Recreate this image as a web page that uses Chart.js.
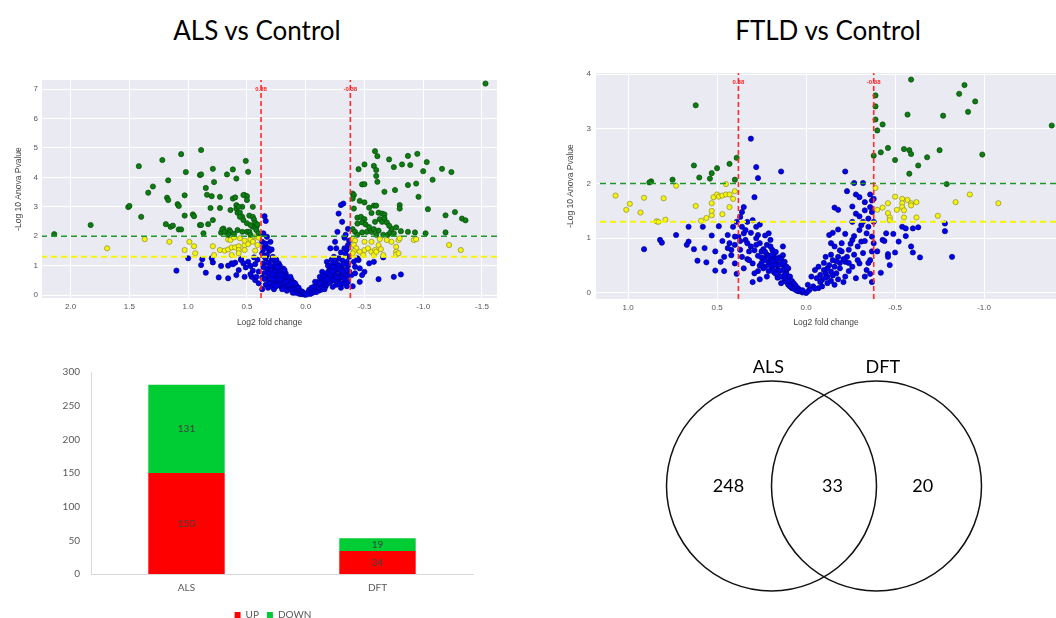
<!DOCTYPE html>
<html>
<head>
<meta charset="utf-8">
<script src="https://cdn.jsdelivr.net/npm/chart.js@4.4.1/dist/chart.umd.min.js"></script>
<style>
  html, body { margin: 0; padding: 0; background: #fff; }
  body { width: 1056px; height: 618px; position: relative; overflow: hidden; }
  .box { position: absolute; }
  .title { position: absolute; width: 400px; text-align: center; font-family: Lato, 'Open Sans', sans-serif; font-size: 26px; line-height: 26px; color: #000; }
</style>
</head>
<body>
<div class="title" style="left:57px; top:17px;">ALS vs Control</div>
<div class="title" style="left:628px; top:17px;">FTLD vs Control</div>
<div class="box" style="left:0px; top:70px; width:515px; height:265px;"><canvas id="alsVolcano"></canvas></div>
<div class="box" style="left:560px; top:63px; width:496px; height:272px;"><canvas id="ftldVolcano"></canvas></div>
<div class="box" style="left:40px; top:355px; width:466px; height:275px;"><canvas id="countBars"></canvas></div>
<div class="box" style="left:614px; top:340px; width:420px; height:260px;"><canvas id="venn"></canvas></div>
<script>
// ---- thresholds shared by both volcano plots ----
const foldCut = 0.38;
const pCutStrong = 2;
const pCutWeak = 1.3;

// ---- ALS vs Control: [log2 fold change, -log10 p] ----
const alsGreen = [
  [2.14,2.07],[1.83,2.38],[1.51,2.99],[1.50,3.03],[1.42,4.38],[1.40,2.66],[1.34,3.48],[1.30,3.69],[1.22,4.59],[1.18,3.31],
  [1.17,3.23],[1.17,3.90],[1.19,2.41],[1.15,2.32],[1.13,2.36],[1.09,3.09],[1.08,3.03],[1.06,4.79],[1.08,2.23],[1.06,2.23],
  [1.03,3.39],[1.02,4.18],[1.03,2.70],[0.96,2.74],[0.95,2.68],[0.90,2.38],[0.89,2.38],[0.89,4.93],[0.90,4.08],[0.89,4.10],
  [0.87,2.10],[0.85,3.64],[0.84,3.41],[0.83,2.41],[0.80,3.36],[0.81,2.96],[0.79,4.29],[0.78,3.84],[0.79,2.55],[0.73,3.34],
  [0.73,2.96],[0.70,2.26],[0.67,4.10],[0.65,2.21],[0.64,2.15],[0.62,4.27],[0.62,3.28],[0.60,3.32],[0.59,3.96],[0.59,3.06],
  [0.58,2.21],[0.58,2.80],[0.56,2.80],[0.54,3.00],[0.54,2.66],[0.54,2.15],[0.51,4.56],[0.52,3.40],[0.50,3.36],[0.49,4.19],
  [0.50,3.23],[0.50,2.15],[0.48,2.15],[0.48,2.70],[0.45,3.00],[0.45,2.66],[0.44,2.57],[0.43,2.46],[0.45,2.32],[0.42,2.30],
  [0.42,2.21],[0.50,2.44],[0.53,2.55],[0.64,2.89],[0.59,2.94],[0.66,2.05],[0.72,2.12],[0.61,2.08],[0.47,2.05],[0.40,2.10],
  [0.41,2.40],[0.71,2.23],[0.69,2.15],[0.57,3.00],[0.53,3.40],[0.56,2.66],[0.47,2.38],
  [-1.53,7.19],[-0.59,4.89],[-0.61,4.72],[-0.71,4.61],[-0.50,4.44],[-0.45,4.28],[-0.58,4.39],[-0.60,4.25],[-0.75,4.35],[-0.82,4.44],
  [-0.87,4.73],[-0.89,4.42],[-0.95,4.80],[-1.03,4.52],[-1.00,4.21],[-1.16,4.29],[-1.24,4.18],[-1.08,3.92],[-0.48,3.76],[-0.50,3.77],
  [-0.60,4.05],[-0.61,3.85],[-0.87,3.74],[-0.94,3.79],[-0.76,3.57],[-0.67,3.51],[-0.96,3.34],[-0.40,3.45],[-0.41,3.40],[-0.40,3.28],
  [-0.46,3.20],[-0.50,3.15],[-0.54,2.97],[-0.58,3.04],[-0.60,3.04],[-0.41,2.94],[-0.80,3.06],[-0.80,2.94],[-1.04,2.92],[-1.19,2.71],
  [-1.27,2.82],[-1.33,2.60],[-1.36,2.54],[-0.44,2.63],[-0.47,2.66],[-0.50,2.58],[-0.44,2.43],[-0.48,2.47],[-0.51,2.40],[-0.56,2.79],
  [-0.62,2.80],[-0.65,2.77],[-0.67,2.74],[-0.59,2.49],[-0.63,2.58],[-0.65,2.49],[-0.67,2.61],[-0.69,2.47],[-0.40,2.24],[-0.42,2.15],
  [-0.48,2.13],[-0.52,2.15],[-0.56,2.15],[-0.58,2.24],[-0.62,2.19],[-0.66,2.05],[-0.70,2.05],[-0.72,2.12],[-0.73,2.26],[-0.75,2.10],
  [-0.81,2.17],[-0.87,2.15],[-0.93,2.13],[-1.02,2.10],[-1.19,2.13],[-0.54,2.31],[-0.71,2.36],[-0.77,2.30],[-0.44,2.05],[-0.60,2.05]
];
const alsYellow = [
  [1.69,1.59],[1.37,1.90],[1.16,1.81],[1.03,1.53],[0.99,1.81],[0.95,1.66],[0.94,1.42],[0.79,1.66],[0.78,1.36],[0.73,1.53],
  [0.69,1.51],[0.66,1.55],[0.63,1.62],[0.60,1.62],[0.57,1.66],[0.52,1.69],[0.49,1.73],[0.45,1.85],[0.42,2.00],[0.66,1.89],
  [0.64,1.87],[0.61,1.96],[0.56,1.93],[0.52,1.85],[0.47,1.90],[0.45,1.81],[0.57,1.53],[0.52,1.53],[0.43,1.51],[0.57,1.42],
  [0.63,1.36],[0.40,1.95],[0.41,1.70],
  [-0.40,1.90],[-0.42,1.85],[-0.41,1.70],[-0.43,1.59],[-0.41,1.49],[-0.40,1.42],[-0.46,1.47],[-0.49,1.36],[-0.50,1.53],[-0.53,1.59],
  [-0.56,1.47],[-0.58,1.36],[-0.59,1.53],[-0.62,1.70],[-0.64,1.56],[-0.66,1.36],[-0.63,1.90],[-0.69,1.87],[-0.73,1.81],[-0.77,1.64],
  [-0.79,1.87],[-0.80,1.93],[-0.77,1.47],[-0.77,1.38],[-0.79,1.42],[-0.92,1.87],[-0.94,1.90],[-1.22,1.70],[-1.32,1.53],[-0.50,1.81],
  [-0.56,1.81],[-0.60,1.47]
];
const alsBlue = [
  [1.10,0.83],[1.00,1.25],[0.89,1.02],[0.85,0.76],[0.79,1.11],[0.74,0.60],[0.72,0.99],[0.66,1.00],[0.66,0.57],[0.63,1.08],
  [0.60,1.10],[0.59,0.68],[0.57,0.85],[0.55,1.19],[0.53,1.08],[0.51,0.94],[0.49,1.13],[0.47,0.99],[0.45,0.83],[0.43,1.05],
  [0.52,0.62],[0.46,0.62],[0.43,0.51],[0.88,1.22],[0.80,1.25],[0.62,1.05],[0.55,1.22],[0.47,0.71],[0.42,0.62],[0.40,0.80],
  [0.41,1.20],[0.40,0.40],[0.44,1.28],
  [0.35,2.68],[0.34,2.52],[0.36,2.10],[0.33,1.98],[0.37,1.81],[0.35,1.64],[0.30,1.81],[0.37,1.42],[0.33,1.36],[0.29,1.19],
  [0.36,1.08],[0.33,0.91],[0.27,0.96],[0.23,1.08],[0.24,0.74],[0.20,0.62],[0.17,0.74],[0.16,0.51],[0.13,0.40],[0.10,0.28],
  [0.08,0.17],[0.05,0.08],[0.02,0.03],[0.36,1.55],[0.34,1.25],[0.31,1.50],[0.32,1.10],[0.30,0.85],[0.28,1.30],[0.26,0.80],
  [0.25,1.20],[0.35,0.75],[0.37,0.60],[0.33,0.55],[0.31,0.65],[0.29,0.45],[0.27,0.60],[0.26,0.40],[0.24,0.55],[0.22,0.85],
  [0.22,0.45],[0.21,0.30],[0.20,0.75],[0.19,0.50],[0.18,0.35],[0.18,0.62],[0.17,0.25],[0.16,0.42],[0.15,0.60],[0.15,0.30],
  [0.14,0.20],[0.14,0.48],[0.13,0.30],[0.12,0.52],[0.12,0.18],[0.11,0.36],[0.10,0.12],[0.10,0.42],[0.09,0.25],[0.09,0.08],
  [0.08,0.32],[0.07,0.12],[0.07,0.20],[0.06,0.05],[0.06,0.25],[0.05,0.15],[0.04,0.10],[0.04,0.03],[0.03,0.12],[0.02,0.07],
  [0.01,0.02],[0.01,0.05],[0.00,0.01],[0.28,0.70],[0.25,0.95],[0.23,0.65],[0.21,0.55],[0.19,0.90],[0.36,0.95],[0.34,0.35],
  [0.30,0.30],[0.37,0.20],[0.32,0.75],[0.26,1.05],[0.34,1.75],[0.32,1.60],[0.29,1.55],[0.31,0.40],[0.27,0.20],[0.23,0.35],
  [0.20,0.20],[0.19,0.65],[0.16,0.15],[0.13,0.62],[0.11,0.08],[0.28,0.55],[0.35,1.30],[0.22,1.00],[0.35,0.55],[0.32,0.25],
  [0.30,1.00],[0.27,0.35],[0.25,0.30],[0.24,0.95],[0.21,0.70],[0.18,0.85],[0.17,0.45],[0.14,0.35],[0.12,0.40],[0.09,0.40],
  [-0.32,3.11],[-0.30,3.06],[-0.28,2.77],[-0.31,2.49],[-0.27,2.15],[-0.25,1.81],[-0.21,1.59],[-0.26,1.59],[-0.33,1.59],[-0.24,1.30],
  [-0.18,1.13],[-0.22,1.02],[-0.31,1.19],[-0.35,1.13],[-0.14,0.79],[-0.19,0.68],[-0.25,0.79],[-0.29,0.68],[-0.11,0.45],[-0.15,0.40],
  [-0.21,0.45],[-0.05,0.17],[-0.08,0.23],[-0.02,0.06],[-0.36,2.25],[-0.33,1.95],[-0.36,1.70],[-0.30,1.45],[-0.34,1.40],[-0.28,1.25],
  [-0.36,1.00],[-0.33,0.85],[-0.30,0.95],[-0.27,1.05],[-0.26,0.90],[-0.24,0.70],[-0.23,0.95],[-0.22,0.60],[-0.20,0.85],[-0.20,0.55],
  [-0.19,0.40],[-0.18,0.75],[-0.17,0.50],[-0.17,0.30],[-0.16,0.62],[-0.15,0.25],[-0.14,0.55],[-0.13,0.35],[-0.13,0.18],[-0.12,0.62],
  [-0.12,0.28],[-0.11,0.15],[-0.10,0.40],[-0.10,0.22],[-0.09,0.32],[-0.09,0.10],[-0.08,0.45],[-0.07,0.15],[-0.07,0.28],[-0.06,0.08],
  [-0.05,0.25],[-0.04,0.12],[-0.04,0.04],[-0.03,0.18],[-0.02,0.10],[-0.01,0.03],[-0.28,0.50],[-0.31,0.60],[-0.34,0.70],[-0.36,0.45],
  [-0.37,0.80],[-0.35,0.30],[-0.32,0.40],[-0.26,0.35],[-0.24,0.50],[-0.23,0.28],[-0.29,0.85],[-0.32,1.05],[-0.37,1.30],[-0.35,1.55],
  [-0.37,1.85],[-0.21,0.70],[-0.16,0.20],[-0.27,0.62],[-0.30,0.25],[-0.19,1.00],[-0.25,1.12],[-0.34,2.05],[-0.33,0.55],[-0.35,0.85],
  [-0.29,0.40],[-0.26,0.60],[-0.23,0.80],[-0.22,1.20],[-0.28,1.00],[-0.31,0.80],[-0.15,0.65],[-0.12,0.40],[-0.18,0.55],[-0.36,0.65],
  [-0.42,0.96],[-0.46,0.91],[-0.48,0.68],[-0.46,0.45],[-0.54,1.08],[-0.58,1.13],[-0.62,0.54],[-0.75,0.62],[-0.81,0.70],[-0.42,0.74],
  [-0.50,0.79],[-0.39,0.68],[-0.41,1.13],[-0.45,1.19],[-0.66,1.28],[-0.40,0.30],[-0.44,1.25]
];

// ---- FTLD vs Control ----
const ftldGreen = [
  [0.62,3.43],[0.63,2.33],[0.60,2.11],[0.54,2.09],[0.53,2.19],[0.50,2.28],[0.43,2.36],[0.39,2.47],[0.40,2.07],[0.75,2.07],
  [0.87,2.04],[0.88,2.02],
  [-0.59,3.90],[-0.39,3.61],[-0.39,3.41],[-0.39,3.17],[-0.43,3.08],[-0.40,2.97],[-0.57,3.26],[-0.77,3.24],[-0.86,3.64],[-0.89,3.80],
  [-0.95,3.50],[-0.91,3.31],[-1.38,3.06],[-0.42,2.57],[-0.46,2.65],[-0.38,2.51],[-0.50,2.43],[-0.55,2.63],[-0.58,2.61],[-0.59,2.54],
  [-0.63,2.33],[-0.58,2.18],[-0.68,2.48],[-0.75,2.61],[-0.99,2.53],[-0.79,1.99]
];
const ftldYellow = [
  [1.07,1.78],[1.01,1.52],[0.99,1.63],[0.93,1.47],[0.91,1.74],[0.84,1.31],[0.83,1.30],[0.80,1.73],[0.79,1.34],[0.73,1.96],
  [0.62,1.59],[0.59,1.32],[0.56,1.37],[0.53,1.42],[0.53,1.50],[0.53,1.64],[0.52,1.75],[0.50,1.80],[0.49,1.76],[0.47,1.78],
  [0.45,1.80],[0.43,1.80],[0.47,1.44],[0.43,1.57],[0.41,1.72],[0.45,1.99],[0.40,1.86],
  [-0.39,1.92],[-0.40,1.52],[-0.43,1.56],[-0.46,1.64],[-0.46,1.46],[-0.47,1.38],[-0.47,1.33],[-0.50,1.76],[-0.51,1.52],[-0.54,1.72],
  [-0.54,1.64],[-0.54,1.57],[-0.55,1.51],[-0.55,1.38],[-0.57,1.70],[-0.59,1.64],[-0.59,1.60],[-0.62,1.66],[-0.62,1.38],[-0.74,1.41],
  [-0.84,1.66],[-0.92,1.80],[-1.08,1.64]
];
const ftldBlue = [
  [0.91,0.80],[0.82,0.97],[0.81,0.92],[0.73,1.06],[0.66,1.21],[0.66,0.94],[0.67,0.88],[0.63,0.80],[0.61,0.59],[0.58,1.21],
  [0.57,0.82],[0.56,0.56],[0.51,0.76],[0.51,0.41],[0.49,1.22],[0.48,0.57],[0.46,0.66],[0.46,0.40],[0.44,1.06],[0.43,0.91],
  [0.42,0.79],[0.44,0.82],[0.42,0.69],[0.41,1.21],[0.40,1.03],[0.40,0.88],[0.40,0.54],[0.53,1.05],[0.47,0.95],[0.39,1.30],
  [0.39,0.35],
  [0.31,2.82],[0.28,2.30],[0.27,2.10],[0.14,2.22],[0.29,1.75],[0.35,1.57],[0.36,1.48],[0.37,1.39],
  [0.36,1.21],[0.35,1.09],[0.34,0.97],[0.38,1.03],[0.37,0.79],[0.36,0.66],[0.33,0.91],[0.32,0.76],[0.30,0.54],[0.29,0.36],
  [0.28,1.21],[0.27,1.06],[0.26,0.91],[0.25,0.76],[0.24,0.63],[0.23,0.48],[0.22,0.30],[0.21,1.09],[0.20,0.97],[0.19,0.79],
  [0.18,0.66],[0.17,0.54],[0.16,0.42],[0.15,0.30],[0.14,0.18],[0.13,0.85],[0.13,0.69],[0.12,0.57],[0.11,0.42],[0.10,0.30],
  [0.09,0.18],[0.08,0.09],[0.06,0.06],[0.04,0.03],[0.02,0.01],[0.00,0.00],[0.25,0.65],[0.24,0.80],[0.22,0.70],[0.21,0.55],
  [0.20,0.62],[0.19,0.45],[0.18,0.72],[0.18,0.38],[0.17,0.60],[0.16,0.50],[0.16,0.28],[0.15,0.65],[0.15,0.40],[0.14,0.52],
  [0.14,0.30],[0.13,0.42],[0.12,0.25],[0.12,0.50],[0.11,0.35],[0.11,0.20],[0.10,0.45],[0.10,0.15],[0.09,0.30],[0.08,0.22],
  [0.08,0.12],[0.07,0.18],[0.07,0.08],[0.06,0.14],[0.05,0.10],[0.05,0.04],[0.04,0.07],[0.03,0.04],[0.02,0.05],[0.26,1.25],
  [0.30,1.33],[0.33,1.30],[0.28,1.00],[0.31,0.85],[0.33,0.62],[0.35,0.45],[0.37,0.95],[0.23,1.05],[0.27,0.68],[0.29,0.78],
  [0.20,0.85],[0.24,0.45],[0.26,0.25],[0.30,0.20],[0.22,0.88],[0.19,0.58],[0.23,0.60],[0.17,0.35],[0.21,0.40],[0.26,0.50],
  [0.27,0.40],[0.25,0.55],[0.23,0.75],[0.21,0.68],[0.20,0.50],[0.19,0.70],[0.18,0.52],[0.17,0.75],[0.16,0.62],[0.15,0.52],
  [0.14,0.62],[0.13,0.55],[0.12,0.33],[0.11,0.48],[0.10,0.22],[0.09,0.12],[0.28,0.88],[0.31,1.10],[0.34,1.15],[0.32,0.60],
  [-0.22,2.22],[-0.27,2.01],[-0.32,2.01],[-0.23,1.86],[-0.28,1.80],[-0.30,1.75],[-0.36,1.80],[-0.37,1.69],[-0.33,1.66],[-0.16,1.56],
  [-0.18,1.52],[-0.26,1.58],[-0.28,1.45],[-0.33,1.51],[-0.35,1.36],[-0.37,1.48],[-0.26,1.30],[-0.32,1.30],[-0.13,1.06],[-0.15,1.10],
  [-0.18,1.16],[-0.22,1.08],[-0.27,1.04],[-0.30,1.15],[-0.34,1.09],[-0.37,1.03],[-0.14,0.91],[-0.16,0.85],[-0.20,0.91],[-0.24,0.79],
  [-0.29,0.85],[-0.32,0.73],[-0.37,0.76],[-0.38,0.91],[-0.11,0.66],[-0.15,0.60],[-0.18,0.66],[-0.22,0.57],[-0.26,0.48],[-0.30,0.54],
  [-0.34,0.42],[-0.36,0.60],[-0.07,0.48],[-0.10,0.42],[-0.14,0.39],[-0.17,0.36],[-0.22,0.30],[-0.28,0.27],[-0.03,0.30],[-0.06,0.27],
  [-0.09,0.24],[-0.12,0.18],[-0.16,0.15],[-0.01,0.15],[-0.04,0.12],[-0.07,0.09],[-0.02,0.06],[-0.01,0.03],[-0.05,0.42],[-0.08,0.33],
  [-0.11,0.36],[-0.13,0.51],[-0.16,0.48],[-0.19,0.45],[-0.20,0.76],[-0.23,0.66],[-0.26,0.97],[-0.31,0.94],[-0.31,1.24],[-0.35,1.21],
  [-0.38,1.30],[-0.36,1.57],[-0.38,1.72],[-0.12,0.30],[-0.14,0.22],[-0.18,0.25],[-0.09,0.12],[-0.19,0.55],[-0.24,0.40],[-0.21,0.20],
  [-0.10,0.55],[-0.12,0.45],[-0.14,0.70],[-0.17,0.58],[-0.19,0.78],[-0.21,0.62],[-0.24,0.55],[-0.27,0.70],[-0.25,0.90],[-0.29,0.60],
  [-0.08,0.20],[-0.11,0.28],[-0.15,0.32],[-0.05,0.08],[-0.33,0.95],[-0.35,0.55],[-0.33,0.30],[-0.36,0.35],[-0.37,0.20],[-0.30,1.40],
  [-0.40,0.76],[-0.42,0.37],[-0.43,0.97],[-0.44,0.95],[-0.45,1.09],[-0.46,0.71],[-0.46,0.66],[-0.47,0.51],[-0.49,1.08],[-0.50,0.74],
  [-0.52,0.94],[-0.54,1.21],[-0.56,1.04],[-0.56,1.18],[-0.59,0.85],[-0.60,0.74],[-0.60,1.18],[-0.63,1.20],[-0.64,0.65],[-0.78,1.27],
  [-0.78,1.13],[-0.82,0.66]
];

// ---- differentially expressed counts ----
const barGroups = ['ALS', 'DFT'];
const upCounts = [150, 34];
const downCounts = [131, 19];

// ---- Venn ----
const vennSets = ['ALS', 'DFT'];
const vennCounts = [248, 33, 20]; // ALS only, both, DFT only

const axisFont = 'Liberation Sans, Arial, sans-serif';
const officeFont = 'Lato, Open Sans, sans-serif';

const plotBackground = {
  id: 'plotBackground',
  beforeDraw(chart) {
    const { ctx, chartArea: a } = chart;
    ctx.save();
    ctx.fillStyle = '#eaeaf2';
    ctx.fillRect(a.left, a.top, a.width, a.height);
    ctx.restore();
  }
};

const cutLabels = {
  id: 'cutLabels',
  afterDatasetsDraw(chart) {
    const { ctx, chartArea, scales: { x } } = chart;
    ctx.save();
    ctx.fillStyle = '#ff2020';
    ctx.font = 'bold 6px ' + axisFont;
    ctx.textAlign = 'center';
    ctx.textBaseline = 'middle';
    [foldCut, -foldCut].forEach(v => ctx.fillText(v.toFixed(2), x.getPixelForValue(v), chartArea.top + 9));
    ctx.restore();
  }
};

function dashedLine(data, color, width, dash) {
  return { type: 'line', data, borderColor: color, borderWidth: width, borderDash: dash, pointRadius: 0, fill: false };
}

function pointSet(data, fill, edge) {
  return { data, backgroundColor: fill, borderColor: edge, borderWidth: 0.7, pointRadius: 2.6 };
}

function makeVolcano(id, xMin, xMax, yMin, yMax, green, yellow, blue, layout) {
  return new Chart(document.getElementById(id), {
    type: 'scatter',
    data: {
      datasets: [
        dashedLine([[foldCut, yMin], [foldCut, yMax]], '#ff2a2a', 1.6, [5, 3]),
        dashedLine([[-foldCut, yMin], [-foldCut, yMax]], '#ff2a2a', 1.6, [5, 3]),
        dashedLine([[xMin, pCutStrong], [xMax, pCutStrong]], '#1f9a2a', 1.6, [6, 4]),
        dashedLine([[xMin, pCutWeak], [xMax, pCutWeak]], '#f5f500', 2, [6, 4]),
        pointSet(green, '#0b7d12', '#0a4a0a'),
        pointSet(yellow, '#f6f60c', '#8a8a30'),
        pointSet(blue, '#0000ee', '#00008a')
      ]
    },
    options: {
      responsive: true,
      maintainAspectRatio: false,
      animation: false,
      events: [],
      layout: { autoPadding: false, padding: { top: 10, right: layout.right, left: 0, bottom: 0 } },
      plugins: { legend: { display: false }, tooltip: { enabled: false } },
      scales: {
        x: {
          type: 'linear', reverse: true, min: xMin, max: xMax,
          ticks: { stepSize: 0.5, includeBounds: false, callback: v => v.toFixed(1), color: '#555', font: { family: axisFont, size: 8 }, padding: 4 },
          grid: { color: '#ffffff', lineWidth: 1, drawTicks: false },
          border: { display: false },
          title: { display: true, text: 'Log2 fold change', color: '#444', font: { family: axisFont, size: 8.5 }, padding: { top: 0, bottom: 7 } },
          afterFit: s => { s.height = layout.xHeight; }
        },
        y: {
          type: 'linear', min: yMin, max: yMax,
          ticks: { stepSize: 1, includeBounds: false, color: '#555', font: { family: axisFont, size: 8 }, padding: layout.yTickPad },
          grid: { color: '#ffffff', lineWidth: 1, drawTicks: false },
          border: { display: false },
          title: { display: true, text: '-Log 10 Anova Pvalue', color: '#444', font: { family: axisFont, size: 8.5 }, padding: { top: layout.yTitlePad, bottom: 0 } },
          afterFit: s => { s.width = layout.yWidth; }
        }
      }
    },
    plugins: [plotBackground, cutLabels]
  });
}

makeVolcano('alsVolcano', -1.628, 2.244, -0.10, 7.31, alsGreen, alsYellow, alsBlue,
  { right: 18, xHeight: 37, yWidth: 42, yTickPad: 4, yTitlePad: 14 });
makeVolcano('ftldVolcano', -1.404, 1.18, -0.11, 4.02, ftldGreen, ftldYellow, ftldBlue,
  { right: 0, xHeight: 36, yWidth: 36, yTickPad: 5, yTitlePad: 6 });

const barValueLabels = {
  id: 'barValueLabels',
  afterDatasetsDraw(chart) {
    const { ctx } = chart;
    ctx.save();
    ctx.font = '10px ' + officeFont;
    ctx.fillStyle = '#404040';
    ctx.textAlign = 'center';
    ctx.textBaseline = 'middle';
    chart.data.datasets.forEach((ds, i) => {
      chart.getDatasetMeta(i).data.forEach((bar, j) => {
        ctx.fillText(ds.data[j], bar.x, (bar.y + bar.base) / 2);
      });
    });
    ctx.restore();
  }
};

new Chart(document.getElementById('countBars'), {
  type: 'bar',
  data: {
    labels: barGroups,
    datasets: [
      { label: 'UP', data: upCounts, backgroundColor: '#ff0000', categoryPercentage: 0.8, barPercentage: 0.5 },
      { label: 'DOWN', data: downCounts, backgroundColor: '#00cc33', categoryPercentage: 0.8, barPercentage: 0.5 }
    ]
  },
  options: {
    responsive: true,
    maintainAspectRatio: false,
    animation: false,
    events: [],
    layout: { padding: { top: 13, right: 0, left: 0, bottom: 0 } },
    plugins: {
      legend: {
        position: 'bottom',
        labels: { boxWidth: 6, boxHeight: 6, padding: 8, color: '#595959', font: { family: officeFont, size: 10 } }
      },
      tooltip: { enabled: false }
    },
    scales: {
      x: {
        stacked: true,
        grid: { display: false, drawTicks: false },
        border: { display: true, color: '#d9d9d9' },
        ticks: { color: '#595959', font: { family: officeFont, size: 10 }, padding: 8 }
      },
      y: {
        stacked: true, min: 0, max: 300,
        grid: { display: false, drawTicks: false },
        border: { display: true, color: '#d9d9d9' },
        ticks: { stepSize: 50, color: '#595959', font: { family: officeFont, size: 10 }, padding: 11 },
        afterFit: s => { s.width = 51; }
      },
      // empty margin on the right so the legend sits where the original has it
      margin: {
        position: 'right', display: true,
        grid: { display: false, drawTicks: false },
        border: { display: false },
        ticks: { display: false },
        afterFit: s => { s.width = 33; }
      }
    }
  },
  plugins: [barValueLabels]
});

const vennText = {
  id: 'vennText',
  afterDatasetsDraw(chart) {
    const { ctx, scales: { x, y } } = chart;
    ctx.save();
    ctx.font = '18px ' + officeFont;
    ctx.fillStyle = '#000';
    ctx.textAlign = 'center';
    ctx.textBaseline = 'middle';
    ctx.fillText(vennSets[0], x.getPixelForValue(-0.53), y.getPixelForValue(1.13));
    ctx.fillText(vennSets[1], x.getPixelForValue(0.56), y.getPixelForValue(1.13));
    ctx.fillText(vennCounts[0], x.getPixelForValue(-0.91), y.getPixelForValue(0));
    ctx.fillText(vennCounts[1], x.getPixelForValue(0.08), y.getPixelForValue(0));
    ctx.fillText(vennCounts[2], x.getPixelForValue(0.94), y.getPixelForValue(0));
    ctx.restore();
  }
};

new Chart(document.getElementById('venn'), {
  type: 'scatter',
  data: {
    datasets: [{
      data: [[-0.5, 0], [0.5, 0]],
      pointRadius: 105,
      backgroundColor: 'rgba(0,0,0,0)',
      borderColor: '#111',
      borderWidth: 1.5,
      clip: false
    }]
  },
  options: {
    responsive: true,
    maintainAspectRatio: false,
    animation: false,
    events: [],
    layout: { autoPadding: false, padding: 0 },
    plugins: { legend: { display: false }, tooltip: { enabled: false } },
    scales: {
      x: { display: false, min: -2, max: 2 },
      y: { display: false, min: -1.086, max: 1.39 }
    }
  },
  plugins: [vennText]
});
</script>
</body>
</html>
